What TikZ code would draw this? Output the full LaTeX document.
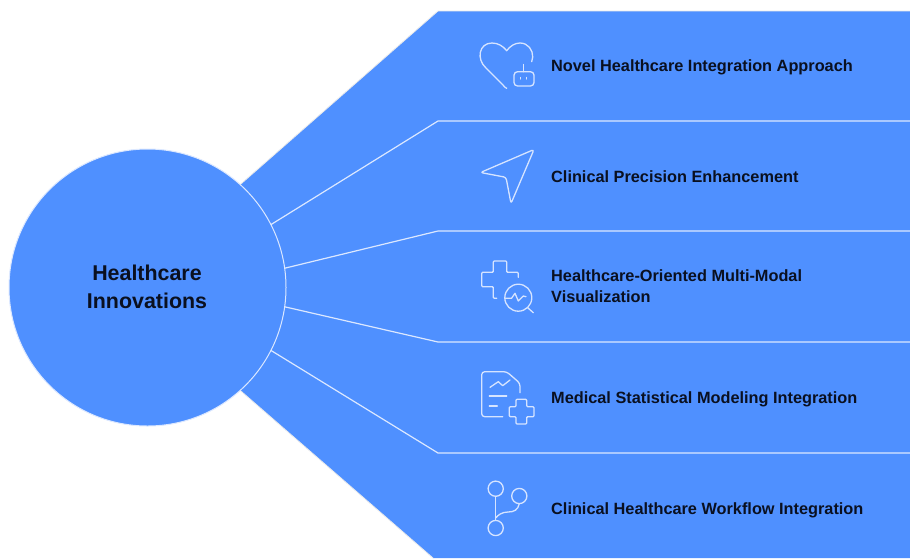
\documentclass[tikz,border=0pt]{standalone}
\usepackage{fontspec}
\setmainfont{Liberation Sans}
\definecolor{fanblue}{HTML}{4F90FF}
\definecolor{inkdark}{HTML}{0A1020}
\definecolor{divider}{HTML}{DCE8FF}
\definecolor{iconline}{HTML}{D6E4FF}
\begin{document}
\begin{tikzpicture}[x=1pt,y=-1pt,
  hub/.style={circle,fill=fanblue,draw=divider,line width=1pt,minimum size=277pt,inner sep=0pt,outer sep=0pt},
  hubtext/.style={font=\bfseries\fontsize{21.4}{28}\selectfont,text=inkdark,align=center},
  rowfont/.style={inner sep=0pt,font=\bfseries\fontsize{16.3}{21}\selectfont,text=inkdark},
  rowtext/.style={rowfont,anchor=base west},
  rowtwo/.style={rowfont,anchor=west,align=left},
  rule/.style={draw=divider,line width=1.2pt},
  icon/.style={draw=iconline,line width=1.3pt,line cap=round,line join=round}]
\useasboundingbox (0,0) rectangle (910,558);
\clip (0,0) rectangle (910,558);
\fill[white] (0,0) rectangle (910,558);
\coordinate (hubc) at (147.5,287.5);
% hub is placed first (invisible) so the fan can use its border anchors
\node[circle,minimum size=277pt,inner sep=0pt,outer sep=0pt] (hubgeo) at (hubc) {};
\coordinate (elbowT) at (438,11);
\coordinate (elbowB) at (433,558);
\coordinate (farT) at (910,11);
\coordinate (farB) at (910,558);
\fill[fanblue] (hubgeo.48.5) -- (elbowT) -- (farT) -- (farB) -- (elbowB) -- (hubgeo.-48.5) -- cycle;
\draw[draw=black!8,line width=.8pt] (hubgeo.48.5) -- (elbowT) -- (farT);
\draw[draw=black!8,line width=.8pt] (hubgeo.-48.5) -- (elbowB);
\node[hub] (hubn) at (hubc) {};
\node[hubtext] (hubl) at (147,287) {Healthcare\\Innovations};
% dividers
\coordinate (e1) at (438,121); \coordinate (r1) at (910,121);
\coordinate (e2) at (438,231); \coordinate (r2) at (910,231);
\coordinate (e3) at (438,342); \coordinate (r3) at (910,342);
\coordinate (e4) at (438,453); \coordinate (r4) at (910,453);
\draw[rule] (hubn.27) -- (e1) -- (r1);
\draw[rule] (hubn.8.9) -- (e2) -- (r2);
\draw[rule] (hubn.-8.9) -- (e3) -- (r3);
\draw[rule] (hubn.-27) -- (e4) -- (r4);
% labels
\node[rowtext] (t1) at (551,71) {Novel Healthcare Integration Approach};
\node[rowtext] (t2) at (551,182) {Clinical Precision Enhancement};
\node[rowtwo] (t3) at (551,286.5) {Healthcare-Oriented Multi-Modal\\Visualization};
\node[rowtext] (t4) at (551,403) {Medical Statistical Modeling Integration};
\node[rowtext] (t5) at (551,514) {Clinical Healthcare Workflow Integration};
% heart + robot
\draw[icon] (506.7,88.3) .. controls (505,88) and (504.5,86.5) .. (503,85) -- (486,68)
  .. controls (476,59) and (479,43) .. (492,43)
  .. controls (498,43) and (503,46) .. (506.7,50.7)
  .. controls (510,46) and (515,43) .. (520,43)
  .. controls (528,43) and (533,50) .. (532.7,57) -- (531.7,61.7);
\draw[icon,rounded corners=3.5pt] (514,71.7) rectangle (534,86);
\draw[icon] (523.5,64.5) -- (523.5,71.7);
\draw[icon] (520.7,77.5) -- (520.7,79);
\draw[icon] (526.7,77.5) -- (526.7,79);
% plane
\draw[icon,rounded corners=2.5pt] (534,149.5) -- (480.5,172.5) -- (506,177.3) -- (511,203.5) -- cycle;
% cross + magnifier
\draw[icon,rounded corners=1pt] (496.7,298.3) -- (493.3,298.3) -- (493.3,286.7) -- (481.7,286.7) -- (481.7,272.3) -- (493.3,272.3) -- (493.3,261) -- (506.7,261) -- (506.7,272.3) -- (518.3,272.3) -- (518.3,277.3);
\draw[icon] (518.3,297.7) circle (13.5);
\draw[icon] (527.7,307.7) -- (533.3,312.7);
\draw[icon] (505,298.3) -- (511.5,298.3) -- (515,293.3) -- (518.3,301) -- (523.3,296) -- (526,296.7);
% document + plus
\draw[icon,rounded corners=3pt] (502.7,416.7) -- (481.7,416.7) -- (481.7,371.7) -- (506.7,371.7) -- (520,383.3) -- (520,392.7);
\draw[icon] (490,387.3) -- (498.3,381.7) -- (502.7,385.7) -- (510,380);
\draw[icon] (489.3,396) -- (506.7,396);
\draw[icon] (489.3,406) -- (497.3,406);
\draw[icon,rounded corners=1pt] (516,399.3) -- (526.7,399.3) -- (526.7,406.7) -- (534,406.7) -- (534,416.7) -- (526.7,416.7) -- (526.7,424) -- (516,424) -- (516,416.7) -- (509.3,416.7) -- (509.3,406.7) -- (516,406.7) -- cycle;
% branch
\draw[icon] (495.7,488.7) circle (7.6);
\draw[icon] (519.3,496) circle (7.6);
\draw[icon] (495.7,528) circle (7.6);
\draw[icon] (495.7,496.3) -- (495.7,520.4);
\draw[icon] (519.3,503.6) .. controls (518,510) and (514,512) .. (508,512) .. controls (502,512) and (498,515) .. (495.7,518);
\end{tikzpicture}
\end{document}
